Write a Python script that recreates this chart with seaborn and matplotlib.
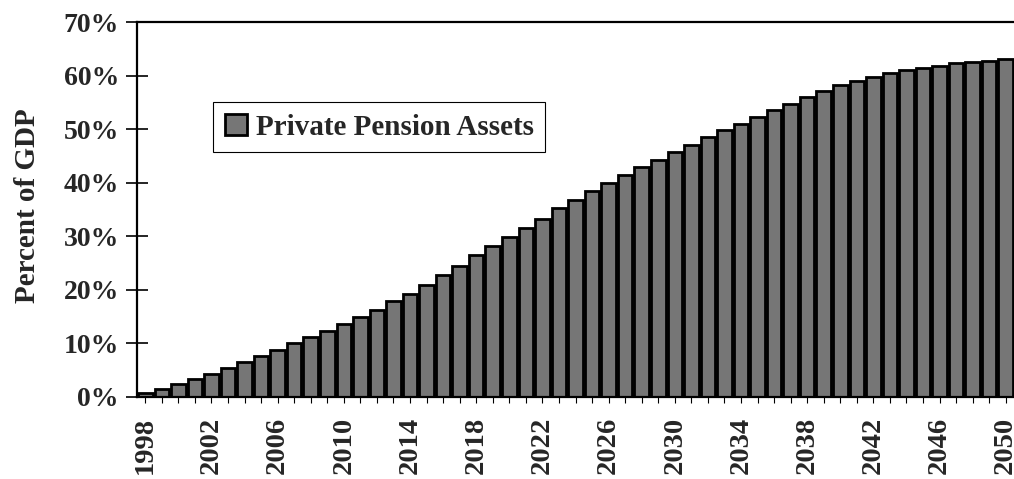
import matplotlib
matplotlib.use('Agg')
import matplotlib.pyplot as plt
import numpy as np
import pandas as pd
import seaborn as sns
from matplotlib.ticker import FuncFormatter

# data (percent of GDP)
years = list(range(1998, 2051))
pension_pct = [0.8, 1.5, 2.5, 3.4, 4.3, 5.5, 6.5, 7.6, 8.8, 10.0,
               11.2, 12.4, 13.7, 15.0, 16.3, 17.9, 19.3, 21.0, 22.8, 24.4,
               26.6, 28.2, 29.9, 31.5, 33.3, 35.2, 36.8, 38.4, 40.0, 41.5,
               43.0, 44.2, 45.8, 47.1, 48.5, 49.9, 51.0, 52.3, 53.5, 54.7,
               56.0, 57.1, 58.2, 59.0, 59.8, 60.5, 61.0, 61.5, 61.8, 62.3,
               62.5, 62.8, 63.1]
series_name = 'Private Pension Assets'
y_ticks = [0, 10, 20, 30, 40, 50, 60, 70]

df = pd.DataFrame({'year': [str(y) for y in years],
                   'pct': pension_pct,
                   'series': series_name})

sns.set_style('white')
plt.rcParams['font.family'] = ['Liberation Serif', 'DejaVu Serif']
plt.rcParams['font.weight'] = 'bold'

fig = plt.figure(figsize=(10.14, 4.79), dpi=100)
ax = fig.add_axes([137 / 1014, 82 / 479, 877 / 1014, 375 / 479])

sns.barplot(data=df, x='year', y='pct', hue='series',
            palette={series_name: '#767676'}, edgecolor='black',
            linewidth=2.0, width=0.88, saturation=1, ax=ax)

ax.set_xlim(-0.5, len(years) - 0.5)
ax.set_ylim(0, 70)
ax.set_yticks(y_ticks)
ax.yaxis.set_major_formatter(FuncFormatter(lambda v, p: f'{v:.0f}%'))
ax.set_xticks(range(len(years)))
ax.set_xticklabels([str(y) if (y - 1998) % 4 == 0 else '' for y in years],
                   rotation=90, fontsize=20.5, fontweight='bold')
for t in ax.get_yticklabels():
    t.set_fontsize(20)
    t.set_fontweight('bold')

ax.tick_params(axis='y', direction='inout', length=16, width=1.2,
               pad=5, left=True, color='black')
ax.tick_params(axis='x', direction='out', length=4, width=0.8,
               pad=10, bottom=True, color='black')

ax.set_xlabel('')
ax.set_ylabel('Percent of GDP', fontsize=21, fontweight='bold')
ax.yaxis.set_label_coords(-0.11, 0.51)

for s in ['left', 'top', 'bottom']:
    ax.spines[s].set_visible(True)
    ax.spines[s].set_color('black')
    ax.spines[s].set_linewidth(1.6)
ax.spines['right'].set_visible(False)

handles, labels = ax.get_legend_handles_labels()
leg = ax.legend(handles, labels, loc='upper left',
                bbox_to_anchor=(0.087, 0.787), borderaxespad=0,
                frameon=True, fancybox=False, framealpha=1,
                edgecolor='black', handlelength=0.75, handleheight=0.75,
                handletextpad=0.3, borderpad=0.4,
                prop={'size': 21, 'weight': 'bold'})
leg.get_frame().set_linewidth(0.8)

fig.savefig('out.png', dpi=100)
